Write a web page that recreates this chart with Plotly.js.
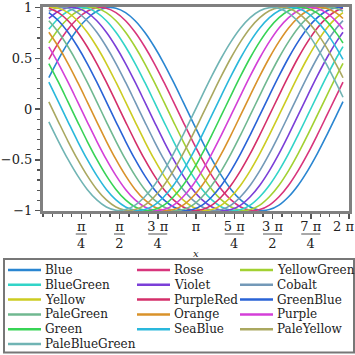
<!DOCTYPE html>
<html><head><meta charset="utf-8">
<script src="https://cdn.plot.ly/plotly-3.0.1.min.js"></script>
<style>html,body{margin:0;padding:0;background:#fff}#chart{width:355px;height:355px}</style>
</head><body><div id="chart"></div>
<script>
// ---- data ----
const names = ['Blue','Rose','YellowGreen','BlueGreen','Violet','Cobalt','Yellow','PurpleRed',
  'GreenBlue','PaleGreen','Orange','Purple','Green','SeaBlue','PaleYellow','PaleBlueGreen'];
const colors = ['#2a86d1','#d8357c','#a2d132','#32d4c8','#7b3fd8','#7399b8','#cccc22','#d42f6a',
  '#2a63d6','#70b890','#d9922a','#d43fd8','#37d455','#2ab8dc','#aaa860','#70b4b4'];
const xValues = [0.120,0.317,0.514,0.711,0.908,1.105,1.301,1.498,1.695,1.892,2.089,2.286,2.483,2.680,2.877,3.074,
  3.270,3.467,3.664,3.861,4.058,4.255,4.452,4.649,4.846,5.043,5.239,5.436,5.633,5.830,6.027,6.160];
const blue = [0.310,0.490,0.651,0.787,0.892,0.963,0.997,0.993,0.950,0.870,0.756,0.613,0.448,0.264,0.070,-0.126,-0.318,-0.497,-0.657,-0.793,-0.896,-0.966,-0.998,-0.991,-0.947,-0.865,-0.751,-0.607,-0.440,-0.255,-0.061,0.072];
const rose = [0.490,0.651,0.787,0.892,0.963,0.997,0.993,0.950,0.870,0.756,0.613,0.448,0.264,0.070,-0.126,-0.318,-0.497,-0.657,-0.793,-0.896,-0.966,-0.998,-0.991,-0.947,-0.865,-0.751,-0.607,-0.440,-0.255,-0.061,0.135,0.265];
const yellowGreen = [0.651,0.787,0.892,0.963,0.997,0.993,0.950,0.870,0.756,0.613,0.448,0.264,0.070,-0.126,-0.318,-0.497,-0.657,-0.793,-0.896,-0.966,-0.998,-0.991,-0.947,-0.865,-0.751,-0.607,-0.440,-0.255,-0.061,0.135,0.326,0.449];
const blueGreen = [0.787,0.892,0.963,0.997,0.993,0.950,0.870,0.756,0.613,0.448,0.264,0.070,-0.126,-0.318,-0.497,-0.657,-0.793,-0.896,-0.966,-0.998,-0.991,-0.947,-0.865,-0.751,-0.607,-0.440,-0.255,-0.061,0.135,0.326,0.505,0.615];
const violet = [0.892,0.963,0.997,0.993,0.950,0.870,0.756,0.613,0.448,0.264,0.070,-0.126,-0.318,-0.497,-0.657,-0.793,-0.896,-0.966,-0.998,-0.991,-0.947,-0.865,-0.751,-0.607,-0.440,-0.255,-0.061,0.135,0.326,0.505,0.664,0.757];
const cobalt = [0.963,0.997,0.993,0.950,0.870,0.756,0.613,0.448,0.264,0.070,-0.126,-0.318,-0.497,-0.657,-0.793,-0.896,-0.966,-0.998,-0.991,-0.947,-0.865,-0.751,-0.607,-0.440,-0.255,-0.061,0.135,0.326,0.505,0.664,0.798,0.871];
const yellow = [0.997,0.993,0.950,0.870,0.756,0.613,0.448,0.264,0.070,-0.126,-0.318,-0.497,-0.657,-0.793,-0.896,-0.966,-0.998,-0.991,-0.947,-0.865,-0.751,-0.607,-0.440,-0.255,-0.061,0.135,0.326,0.505,0.664,0.798,0.900,0.950];
const purpleRed = [0.993,0.950,0.870,0.756,0.613,0.448,0.264,0.070,-0.126,-0.318,-0.497,-0.657,-0.793,-0.896,-0.966,-0.998,-0.991,-0.947,-0.865,-0.751,-0.607,-0.440,-0.255,-0.061,0.135,0.326,0.505,0.664,0.798,0.900,0.968,0.993];
const greenBlue = [0.950,0.870,0.756,0.613,0.448,0.264,0.070,-0.126,-0.318,-0.497,-0.657,-0.793,-0.896,-0.966,-0.998,-0.991,-0.947,-0.865,-0.751,-0.607,-0.440,-0.255,-0.061,0.135,0.326,0.505,0.664,0.798,0.900,0.968,0.998,0.997];
const paleGreen = [0.870,0.756,0.613,0.448,0.264,0.070,-0.126,-0.318,-0.497,-0.657,-0.793,-0.896,-0.966,-0.998,-0.991,-0.947,-0.865,-0.751,-0.607,-0.440,-0.255,-0.061,0.135,0.326,0.505,0.664,0.798,0.900,0.968,0.998,0.990,0.963];
const orange = [0.756,0.613,0.448,0.264,0.070,-0.126,-0.318,-0.497,-0.657,-0.793,-0.896,-0.966,-0.998,-0.991,-0.947,-0.865,-0.751,-0.607,-0.440,-0.255,-0.061,0.135,0.326,0.505,0.664,0.798,0.900,0.968,0.998,0.990,0.944,0.892];
const purple = [0.613,0.448,0.264,0.070,-0.126,-0.318,-0.497,-0.657,-0.793,-0.896,-0.966,-0.998,-0.991,-0.947,-0.865,-0.751,-0.607,-0.440,-0.255,-0.061,0.135,0.326,0.505,0.664,0.798,0.900,0.968,0.998,0.990,0.944,0.861,0.786];
const green = [0.448,0.264,0.070,-0.126,-0.318,-0.497,-0.657,-0.793,-0.896,-0.966,-0.998,-0.991,-0.947,-0.865,-0.751,-0.607,-0.440,-0.255,-0.061,0.135,0.326,0.505,0.664,0.798,0.900,0.968,0.998,0.990,0.944,0.861,0.745,0.650];
const seaBlue = [0.264,0.070,-0.126,-0.318,-0.497,-0.657,-0.793,-0.896,-0.966,-0.998,-0.991,-0.947,-0.865,-0.751,-0.607,-0.440,-0.255,-0.061,0.135,0.326,0.505,0.664,0.798,0.900,0.968,0.998,0.990,0.944,0.861,0.745,0.600,0.489];
const paleYellow = [0.070,-0.126,-0.318,-0.497,-0.657,-0.793,-0.896,-0.966,-0.998,-0.991,-0.947,-0.865,-0.751,-0.607,-0.440,-0.255,-0.061,0.135,0.326,0.505,0.664,0.798,0.900,0.968,0.998,0.990,0.944,0.861,0.745,0.600,0.432,0.308];
const paleBlueGreen = [-0.126,-0.318,-0.497,-0.657,-0.793,-0.896,-0.966,-0.998,-0.991,-0.947,-0.865,-0.751,-0.607,-0.440,-0.255,-0.061,0.135,0.326,0.505,0.664,0.798,0.900,0.968,0.998,0.990,0.944,0.861,0.745,0.600,0.432,0.247,0.116];
const series = [blue,rose,yellowGreen,blueGreen,violet,cobalt,yellow,purpleRed,greenBlue,paleGreen,orange,purple,green,seaBlue,paleYellow,paleBlueGreen];

const PI = Math.PI;
const xTickVals = [PI/4, PI/2, 3*PI/4, PI, 5*PI/4, 3*PI/2, 7*PI/4, 2*PI];
const xTickText = ['π<br>4','π<br>2','3 π<br>4','π','5 π<br>4','3 π<br>2','7 π<br>4','2 π'];
const yTickVals = [-1,-0.5,0,0.5,1];
const yTickText = ['−1','−0.5','0','0.5','1'];
const xTitle = 'x';

// ---- geometry helpers (pixel -> paper) ----
const W = 355, H = 355, ML = 43, MR = 6, MT = 7, MB = 144;
const PW = W - ML - MR, PH = H - MT - MB;
const px = v => (v - ML) / PW;
const py = v => (H - MB - v) / PH;
const serif = 'DejaVu Serif';

const traces = series.map((ys, i) => ({
  type: 'scatter', mode: 'lines', x: xValues, y: ys, name: names[i],
  line: {color: colors[i], width: 1.6, shape: 'spline', smoothing: 1},
  showlegend: false, hoverinfo: 'skip'
}));

const shapes = [];
const annotations = [];
// the last tick label sits on the right edge: draw it right-aligned so it stays whole
const tickTextShown = xTickText.map((t, i) => i === xTickText.length - 1 ? '' : t);
annotations.push({xref: 'paper', yref: 'paper', x: px(355), y: py(226.5), text: xTickText[xTickText.length - 1],
  showarrow: false, xanchor: 'right', yanchor: 'middle', borderpad: 0,
  font: {family: serif, size: 13, color: '#222'}});
// fraction bars between numerators and denominators
xTickVals.forEach((v, i) => {
  const t = xTickText[i];
  if (t.indexOf('<br>') < 0) return;
  const hw = t.indexOf(' ') >= 0 ? 9.5 : 5.5;
  shapes.push({type: 'line', xref: 'x', yref: 'paper', xsizemode: 'pixel', xanchor: v,
    x0: -hw, x1: hw, y0: py(234), y1: py(234), line: {color: '#a8a8a8', width: 2}});
});
// legend box
shapes.push({type: 'rect', xref: 'paper', yref: 'paper', x0: px(4), x1: px(354), y0: py(259), y1: py(352.5),
  line: {color: '#777', width: 2}, fillcolor: 'rgba(0,0,0,0)'});
const colX = [8, 137, 240];
names.forEach((n, i) => {
  const row = Math.floor(i / 3), col = i % 3;
  const yy = 270 + row * 14.8;
  shapes.push({type: 'line', xref: 'paper', yref: 'paper', x0: px(colX[col]), x1: px(colX[col] + 33),
    y0: py(yy), y1: py(yy), line: {color: colors[i], width: 2.5}});
  annotations.push({xref: 'paper', yref: 'paper', x: px(colX[col] + 35), y: py(yy), text: n,
    showarrow: false, xanchor: 'left', yanchor: 'middle', font: {family: serif, size: 12, color: '#222'}});
});
annotations.push({xref: 'paper', yref: 'paper', x: px(196), y: py(253), text: '<i>' + xTitle + '</i>',
  showarrow: false, xanchor: 'center', yanchor: 'middle', font: {family: serif, size: 10, color: '#222'}});

const layout = {
  width: W, height: H, margin: {l: ML, r: MR, t: MT, b: MB},
  paper_bgcolor: '#fff', plot_bgcolor: '#fff', showlegend: false,
  xaxis: {range: [0, 2*PI], showline: true, mirror: true, linecolor: '#808080', linewidth: 3,
    showgrid: false, zeroline: false, ticks: 'outside', ticklen: 5, tickwidth: 1.5, tickcolor: '#555',
    tickmode: 'array', tickvals: xTickVals, ticktext: tickTextShown, ticklabelstandoff: -4,
    tickfont: {family: serif, size: 13, color: '#222'},
    minor: {tick0: 0, dtick: PI/16, ticks: 'outside', ticklen: 3, tickwidth: 1.2, tickcolor: '#555'}},
  yaxis: {range: [-1.005, 1.005], showline: true, mirror: true, linecolor: '#808080', linewidth: 3,
    showgrid: false, zeroline: false, ticks: 'outside', ticklen: 5, tickwidth: 1.5, tickcolor: '#555',
    tickmode: 'array', tickvals: yTickVals, ticktext: yTickText,
    tickfont: {family: serif, size: 13, color: '#222'},
    minor: {tick0: 0, dtick: 0.1, ticks: 'outside', ticklen: 3, tickwidth: 1.2, tickcolor: '#555'}},
  shapes: shapes, annotations: annotations
};
Plotly.newPlot('chart', traces, layout, {staticPlot: true, displayModeBar: false});
</script></body></html>
